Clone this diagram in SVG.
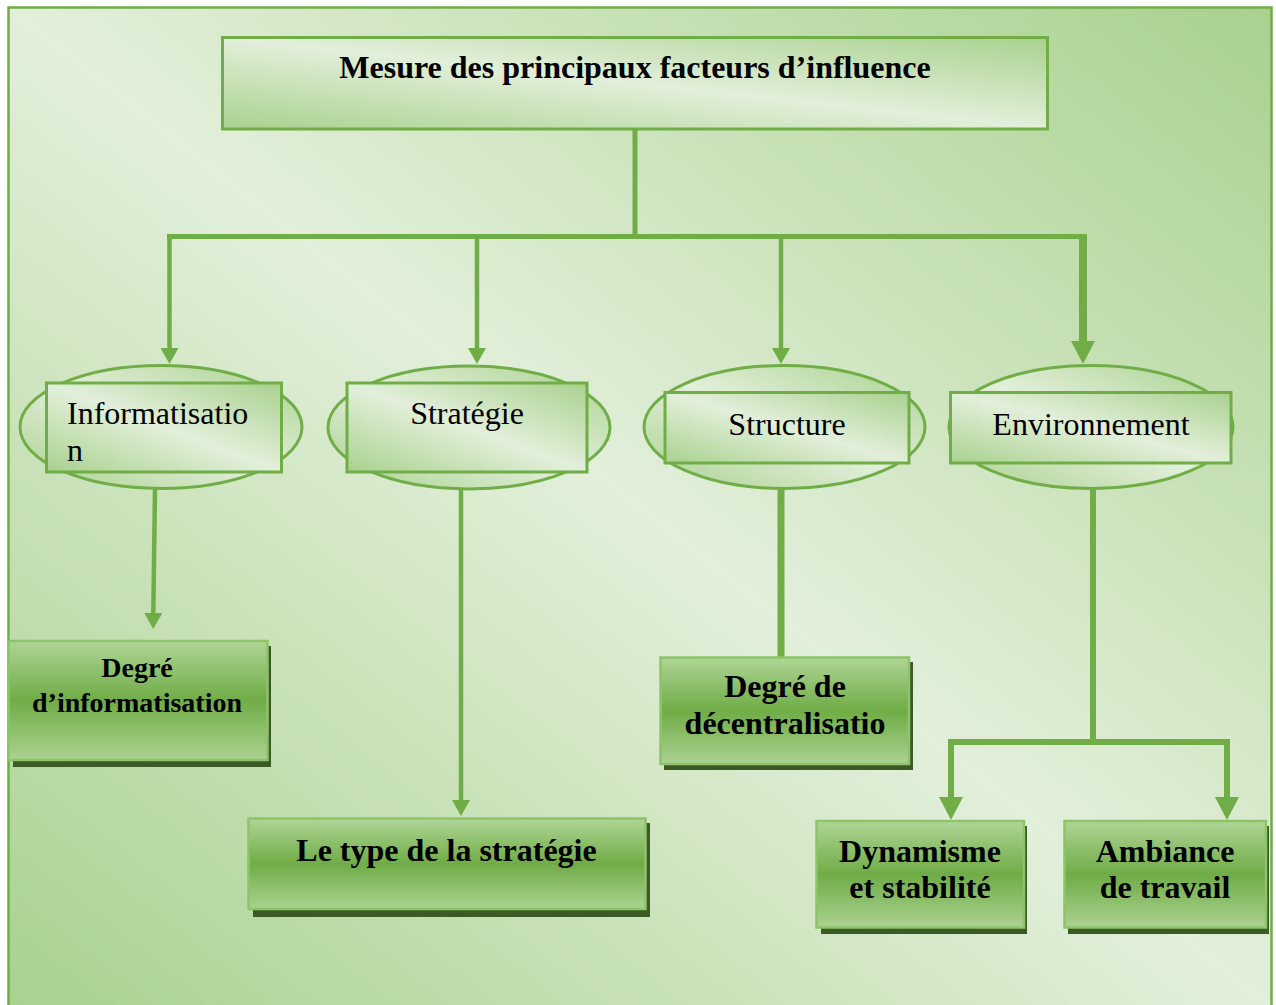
<svg xmlns="http://www.w3.org/2000/svg" width="1276" height="1005" viewBox="0 0 1276 1005">
  <defs>
    <!-- diagonal soft green fill: dark corners top-right / bottom-left, light band across -->
    <linearGradient id="diag" x1="1" y1="0" x2="0" y2="1">
      <stop offset="0" stop-color="#a9d18e"/>
      <stop offset="0.5" stop-color="#e2efda"/>
      <stop offset="1" stop-color="#a9d18e"/>
    </linearGradient>
    <linearGradient id="page" x1="1" y1="0" x2="0" y2="1">
      <stop offset="0" stop-color="#a9d18e"/>
      <stop offset="0.5" stop-color="#e2efda"/>
      <stop offset="1" stop-color="#a9d18e"/>
    </linearGradient>
    <!-- strong green fill for result boxes -->
    <linearGradient id="solid" x1="0" y1="0" x2="0" y2="1">
      <stop offset="0" stop-color="#b0d596"/>
      <stop offset="0.5" stop-color="#6fac46"/>
      <stop offset="1" stop-color="#acd291"/>
    </linearGradient>
    <marker id="arr" viewBox="0 0 16 18" markerWidth="16" markerHeight="18" refX="1" refY="9" orient="auto" markerUnits="userSpaceOnUse">
      <path d="M0,0 L16,9 L0,18 Z" fill="#70ad47"/>
    </marker>
    <marker id="arrBig" viewBox="0 0 23 24" markerWidth="23" markerHeight="24" refX="1" refY="12" orient="auto" markerUnits="userSpaceOnUse">
      <path d="M0,0 L23,12 L0,24 Z" fill="#70ad47"/>
    </marker>
    <style>
      .frame { fill: url(#page); stroke: #70ad47; stroke-width: 2.5; }
      .soft { fill: url(#diag); stroke: #70ad47; stroke-width: 3; }
      .oval { fill: url(#diag); stroke: #70ad47; stroke-width: 3; }
      .box { fill: url(#solid); stroke: #8cc46a; stroke-width: 2.5; }
      .shadow { fill: #3b5a26; }
      .link { fill: none; stroke: #70ad47; stroke-linecap: butt; }
      .t { font-family: "Liberation Serif", "Times New Roman", serif; font-size: 32px; fill: #000; }
      .b { font-family: "Liberation Serif", "Times New Roman", serif; font-size: 32px; font-weight: bold; fill: #000; text-anchor: middle; }
      .c { text-anchor: middle; }
    </style>
  </defs>

  <!-- page frame -->
  <rect class="frame" x="8.5" y="7.5" width="1263" height="1000"/>

  <!-- connectors -->
  <g id="connectors">
    <path class="link" stroke-width="5" d="M635,129 V236"/>
    <path class="link" stroke-width="5" d="M167,236.5 H1087"/>
    <path class="link" stroke-width="4.5" d="M169.5,236 V349" marker-end="url(#arr)"/>
    <path class="link" stroke-width="4.5" d="M477,236 V349" marker-end="url(#arr)"/>
    <path class="link" stroke-width="4.5" d="M781,236 V349" marker-end="url(#arr)"/>
    <path class="link" stroke-width="8" d="M1083,234 V342" marker-end="url(#arrBig)"/>
    <path class="link" stroke-width="4.5" d="M155,489 L153.3,614" marker-end="url(#arr)"/>
    <path class="link" stroke-width="4.5" d="M461,489 V801" marker-end="url(#arr)"/>
    <path class="link" stroke-width="7" d="M781,489 V657"/>
    <path class="link" stroke-width="6" d="M1093,489 V742"/>
    <path class="link" stroke-width="6" d="M948,742 H1230"/>
    <path class="link" stroke-width="6" d="M951,739 V798" marker-end="url(#arrBig)"/>
    <path class="link" stroke-width="6" d="M1227,739 V798" marker-end="url(#arrBig)"/>
  </g>

  <!-- root -->
  <g id="root">
    <rect class="soft" x="222.5" y="37.5" width="825" height="91.5"/>
    <text class="b" x="635" y="78">Mesure des principaux facteurs d’influence</text>
  </g>

  <!-- first level -->
  <g id="informatisation">
    <ellipse class="oval" cx="161" cy="427" rx="141" ry="61.5"/>
    <rect class="soft" x="46.5" y="383" width="235" height="89"/>
    <text class="t" x="67" y="424">Informatisatio</text>
    <text class="t" x="67" y="461">n</text>
  </g>
  <g id="strategie">
    <ellipse class="oval" cx="469" cy="427.5" rx="141" ry="61.5"/>
    <rect class="soft" x="347" y="383" width="240" height="89"/>
    <text class="t c" x="467" y="424">Stratégie</text>
  </g>
  <g id="structure">
    <ellipse class="oval" cx="784.5" cy="427" rx="140.5" ry="61.5"/>
    <rect class="soft" x="665" y="392.5" width="244" height="70.5"/>
    <text class="t c" x="787" y="435">Structure</text>
  </g>
  <g id="environnement">
    <ellipse class="oval" cx="1091" cy="427" rx="142" ry="61.5"/>
    <rect class="soft" x="950.5" y="392.5" width="280.5" height="70.5"/>
    <text class="t c" x="1091" y="435">Environnement</text>
  </g>

  <!-- measures -->
  <g id="degre-informatisation">
    <rect class="shadow" x="13" y="646" width="258" height="121"/>
    <rect class="box" x="8.5" y="641" width="259" height="119"/>
    <text class="b" x="137" y="677" style="font-size:28px">Degré</text>
    <text class="b" x="137" y="712" style="font-size:28px">d’informatisation</text>
  </g>
  <g id="type-strategie">
    <rect class="shadow" x="253" y="823" width="397" height="94"/>
    <rect class="box" x="248.5" y="818.5" width="397" height="90.5"/>
    <text class="b" x="446.5" y="861">Le type de la stratégie</text>
  </g>
  <g id="degre-decentralisation">
    <rect class="shadow" x="664" y="662" width="249" height="108"/>
    <rect class="box" x="660.5" y="657.5" width="248.5" height="106.5"/>
    <text class="b" x="785" y="697">Degré de</text>
    <text class="b" x="785" y="734">décentralisatio</text>
  </g>
  <g id="dynamisme">
    <rect class="shadow" x="821" y="826" width="206" height="108"/>
    <rect class="box" x="816.5" y="821" width="207.5" height="106.5"/>
    <text class="b" x="920" y="862">Dynamisme</text>
    <text class="b" x="920" y="898">et stabilité</text>
  </g>
  <g id="ambiance">
    <rect class="shadow" x="1068" y="826" width="201" height="108"/>
    <rect class="box" x="1064.5" y="821" width="201.5" height="106.5"/>
    <text class="b" x="1165" y="862">Ambiance</text>
    <text class="b" x="1165" y="898">de travail</text>
  </g>
</svg>
